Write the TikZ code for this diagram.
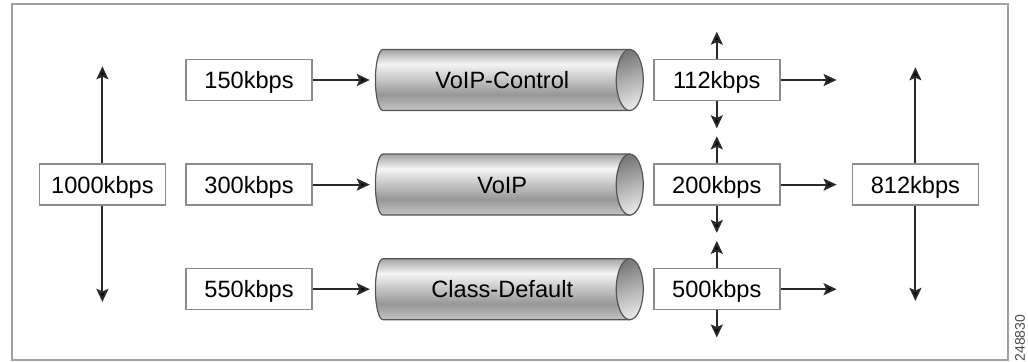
\documentclass[tikz,border=0pt]{standalone}
\usepackage{fontspec}
\setmainfont{Liberation Sans}
\usetikzlibrary{arrows.meta,positioning,shapes.geometric,calc}
\definecolor{framegray}{HTML}{A0A0A0}
\definecolor{boxgray}{HTML}{8C8C8C}
\definecolor{linegray}{HTML}{2A2A2A}
\definecolor{pipeedge}{HTML}{555555}
\definecolor{pipelow}{HTML}{C4C4C4}
\definecolor{pipedark}{HTML}{979797}
\definecolor{pipelight}{HTML}{F4F4F4}
\definecolor{pipetop}{HTML}{A4A4A4}
\definecolor{capdark}{HTML}{7A7A7A}
\definecolor{caplight}{HTML}{E6E6E6}
\pgfdeclareverticalshading{pipeshade}{100bp}{color(0bp)=(pipelow); color(25bp)=(pipelow);
  color(38bp)=(pipedark); color(63bp)=(pipelight); color(75bp)=(pipetop); color(100bp)=(pipetop)}
\tikzset{
    %Define standard arrow tip
    >={Stealth[length=6.5pt, width=6pt, inset=1.3pt]},
    %Define style for rate boxes
    rate/.style={
           rectangle,
           draw=boxgray, line width=.8pt,
           minimum width=63pt,
           minimum height=20.5pt,
           inner sep=0pt,
           text height=8.5pt, text depth=0pt,
           font=\fontsize{11.8}{14}\selectfont,
           text centered},
    %Define style for queues
    pipe/.style={
           cylinder,
           draw=pipeedge, line width=.6pt,
           shape aspect=.9,
           minimum width=30.5pt,
           minimum height=131pt,
           inner sep=0pt,
           text height=8.5pt, text depth=0pt,
           shading=pipeshade,
           font=\fontsize{11.8}{14}\selectfont,
           text centered},
    endcap/.style={
           draw=pipeedge, line width=.6pt,
           top color=capdark, bottom color=caplight,
           shading angle=20},
    % Define arrow style
    flow/.style={
           ->,
           draw=linegray,
           line width=1pt}
}

\begin{document}
\begin{tikzpicture}[x=.5pt,y=-.5pt]
\useasboundingbox (0,0) rectangle (1028,362);
\draw[framegray, line width=1pt] (12,4) rectangle (1008,360);
 %nodes
\node[rate](in1) at (249,80){150kbps};
\node[rate, below=31pt of in1](in2){300kbps};
\node[rate, below=31pt of in2](in3){550kbps};
\node[rate, left=9.5pt of in2](total){1000kbps};
\node[pipe, right=31pt of in1](pipe1){VoIP-Control};
\node[pipe, right=31pt of in2](pipe2){VoIP};
\node[pipe, right=31pt of in3](pipe3){Class-Default};
\node[rate, right=7.5pt of pipe1](out1){112kbps};
\node[rate, right=7.5pt of pipe2](out2){200kbps};
\node[rate, right=7.5pt of pipe3](out3){500kbps};
\node[rate, right=35.5pt of out2](sum){812kbps};
 %end caps
\foreach \p in {pipe1,pipe2,pipe3}
  \path[endcap] ($(\p.before top)!.5!(\p.after top)$) ellipse [x radius=6.75pt, y radius=15.25pt];
 %free ends
\coordinate[above=48.5pt of total](totalup);
\coordinate[below=48pt of total](totaldown);
\coordinate[above=48pt of sum](sumup);
\coordinate[below=47.5pt of sum](sumdown);
\foreach \o in {1,2,3}{
  \coordinate[above=13.5pt of out\o](up\o);
  \coordinate[below=13.5pt of out\o](down\o);
}
\coordinate[right=28pt of out1](right1);
\coordinate[right=28pt of out3](right3);
 %arrows
\path[flow]
    (in1) edge[shorten >=2.5pt] (pipe1)
    (in2) edge[shorten >=2.5pt] (pipe2)
    (in3) edge[shorten >=2.5pt] (pipe3)
    (out1) edge (right1)
    (out2) edge[shorten >=7.5pt] (sum)
    (out3) edge (right3)
    (total) edge (totalup)
    (total) edge (totaldown)
    (sum) edge (sumup)
    (sum) edge (sumdown)
    (out1) edge (up1) (out1) edge (down1)
    (out2) edge (up2) (out2) edge (down2)
    (out3) edge (up3) (out3) edge (down3);
\node[rotate=90, font=\fontsize{7}{8}\selectfont, text=black!70, inner sep=0pt] (figid) at (1020,338) {248830};
\end{tikzpicture}
\end{document}
